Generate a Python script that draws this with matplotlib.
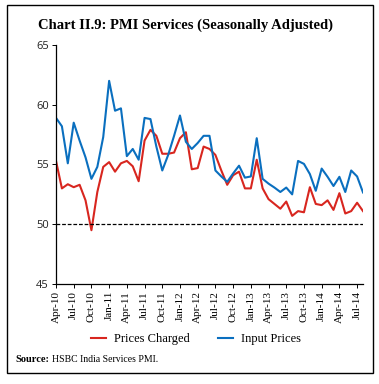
import matplotlib
matplotlib.use("Agg")
import matplotlib.pyplot as plt
from matplotlib.patches import Rectangle

months = ["Apr-10","May-10","Jun-10","Jul-10","Aug-10","Sep-10","Oct-10","Nov-10","Dec-10",
          "Jan-11","Feb-11","Mar-11","Apr-11","May-11","Jun-11","Jul-11","Aug-11","Sep-11",
          "Oct-11","Nov-11","Dec-11","Jan-12","Feb-12","Mar-12","Apr-12","May-12","Jun-12",
          "Jul-12","Aug-12","Sep-12","Oct-12","Nov-12","Dec-12","Jan-13","Feb-13","Mar-13",
          "Apr-13","May-13","Jun-13","Jul-13","Aug-13","Sep-13","Oct-13","Nov-13","Dec-13",
          "Jan-14","Feb-14","Mar-14","Apr-14","May-14","Jun-14","Jul-14","Aug-14"]

prices_charged = [55.3, 53.0, 53.35, 53.1, 53.3, 52.0, 49.5, 52.7, 54.8,
                  55.2, 54.4, 55.1, 55.3, 54.85, 53.6, 57.0, 57.9, 57.4,
                  55.9, 55.9, 56.0, 57.2, 57.7, 54.6, 54.7, 56.5, 56.3,
                  55.8, 54.5, 53.3, 54.1, 54.4, 53.0, 53.0, 55.4, 53.0,
                  52.1, 51.7, 51.3, 51.9, 50.7, 51.1, 51.0, 53.1, 51.7,
                  51.6, 52.0, 51.2, 52.6, 50.9, 51.1, 51.8, 51.1]

input_prices = [58.9, 58.2, 55.1, 58.5, 57.0, 55.6, 53.8, 54.8, 57.3,
                62.0, 59.5, 59.7, 55.7, 56.3, 55.4, 58.9, 58.8, 56.5,
                54.5, 55.8, 57.4, 59.1, 56.9, 56.3, 56.8, 57.4, 57.4,
                54.5, 54.0, 53.55, 54.25, 54.9, 53.9, 54.0, 57.2, 53.8,
                53.4, 53.07, 52.7, 53.07, 52.5, 55.3, 55.05, 54.2, 52.8,
                54.66, 53.97, 53.2, 53.97, 52.7, 54.5, 54.0, 52.66]

tick_labels = months[::3]
y_ticks = [45, 50, 55, 60, 65]

RED = "#d8261f"
BLUE = "#0a6fbf"
SERIF = ["Liberation Serif", "DejaVu Serif"]
SANS = ["Open Sans", "DejaVu Sans"]

fig = plt.figure(figsize=(3.79, 3.84), dpi=100)
fig.patch.set_facecolor("white")

# outer frame
fig.patches.append(Rectangle((7/379, 1 - 373/384), (373-7)/379, (373-5)/384,
                             transform=fig.transFigure, fill=False,
                             edgecolor="black", linewidth=1.0))

ax = fig.add_axes([56/379, 1 - 284/384, (363-56)/379, (284-45)/384])
x = list(range(len(months)))
ax.plot(x, prices_charged, color=RED, lw=1.5, label="Prices Charged")
ax.plot(x, input_prices, color=BLUE, lw=1.5, label="Input Prices")
ax.axhline(50, color="black", lw=0.9, ls=(0, (3, 1.5)))

ax.set_xlim(0, len(months) - 1)
ax.set_ylim(45, 65)
ax.set_yticks(y_ticks)
ax.set_yticklabels([str(v) for v in y_ticks], fontfamily=SANS, fontsize=8, color="#222222")
ax.set_xticks(x[::3])
ax.set_xticklabels(tick_labels, rotation=90, fontfamily=SERIF, fontsize=8)
for s in ["top", "right"]:
    ax.spines[s].set_visible(False)
ax.spines["left"].set_linewidth(0.9)
ax.spines["bottom"].set_linewidth(0.9)
ax.tick_params(axis="both", direction="out", length=3, width=0.7, pad=2)

fig.text(185/379, 1 - 25/384, "Chart II.9: PMI Services (Seasonally Adjusted)",
         ha="center", va="center", fontsize=10.5, fontweight="bold", fontfamily=SERIF)

fig.legend(loc="center", bbox_to_anchor=(196/379, 1 - 339/384), ncol=2, frameon=False,
           prop={"family": SERIF, "size": 9}, handlelength=1.2, columnspacing=2.3,
           handletextpad=0.6)

src_y = 1 - 359/384
t_bold = fig.text(15/379, src_y, "Source:", fontsize=7.5, fontfamily=SERIF,
                  fontweight="bold", va="center")
fig.canvas.draw()
bb = t_bold.get_window_extent(renderer=fig.canvas.get_renderer())
fig.text((bb.x1 + 3) / fig.bbox.width, src_y, "HSBC India Services PMI.",
         fontsize=7, fontfamily=SERIF, va="center")

fig.savefig("out.png", dpi=100)
